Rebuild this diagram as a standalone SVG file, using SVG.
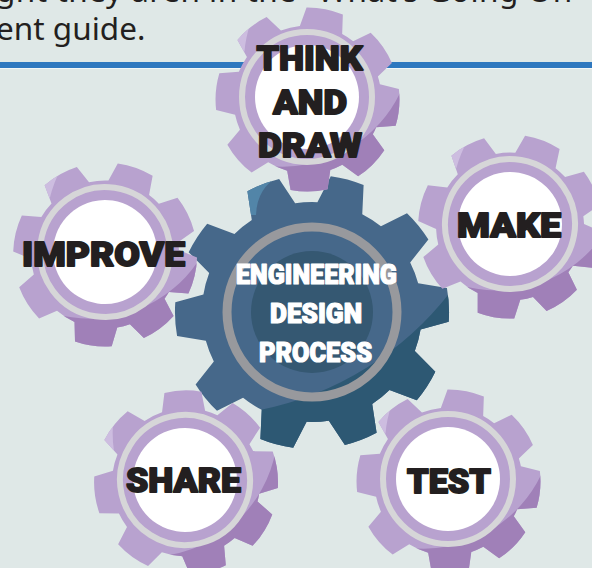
<svg xmlns="http://www.w3.org/2000/svg" xmlns:xlink="http://www.w3.org/1999/xlink" width="592" height="568" viewBox="0 0 592 568">
<style>
.body{font-family:"Noto Sans","Liberation Sans",sans-serif;font-size:31.5px;fill:#231f20}
.lab{font-family:Roboto,"Liberation Sans",sans-serif;font-weight:900;font-size:34px;fill:#231f20;stroke:#231f20;stroke-width:1.800;stroke-linejoin:round;text-anchor:middle}
.mid{font-family:Roboto,"Liberation Sans",sans-serif;font-weight:900;font-size:27px;fill:#fff;stroke:#fff;stroke-width:1.200;stroke-linejoin:round;text-anchor:middle}
</style>
<defs>
<path id="st" d="M-22-68L-18.500-90.100A92 92 0 0 1 18.500-90.100L22-68Z"/>
<path id="bt" d="M-24-104L-17-136A137 137 0 0 1 17-136L24-104Z"/>
<clipPath id="sc">
<circle r="74"/>
<use href="#st" transform="rotate(11)"/><use href="#st" transform="rotate(55)"/><use href="#st" transform="rotate(95)"/><use href="#st" transform="rotate(135)"/><use href="#st" transform="rotate(179)"/><use href="#st" transform="rotate(229)"/><use href="#st" transform="rotate(275)"/><use href="#st" transform="rotate(322)"/>
</clipPath>
<clipPath id="bc">
<circle r="110"/>
<use href="#bt" transform="rotate(15)"/><use href="#bt" transform="rotate(51)"/><use href="#bt" transform="rotate(87)"/><use href="#bt" transform="rotate(123)"/><use href="#bt" transform="rotate(159)"/><use href="#bt" transform="rotate(195)"/><use href="#bt" transform="rotate(231)"/><use href="#bt" transform="rotate(267)"/><use href="#bt" transform="rotate(303)"/><use href="#bt" transform="rotate(339)"/>
</clipPath>
<g id="small-gear">
<g transform="translate(0.500,2.500)">
<g clip-path="url(#sc)">
<rect x="-100" y="-100" width="200" height="200" fill="#b8a2cf"/>
<path d="M95-12A130 130 0 0 1-42 66L-42 110L110 110L110-12Z" fill="#a080b8"/>
<path d="M-56-80Q-62-62-63-48L-95-48L-95-80Z" fill="#cdbde0"/>
</g>
</g>
<circle r="65" fill="none" stroke="#d6d6d8" stroke-width="6"/>
<circle r="52" fill="#fff"/>
</g>
</defs>
<rect width="592" height="568" fill="#dfe8e7"/>
<text class="body" x="-4" y="2" letter-spacing="0.500">ght they aren in the “What’s Going On</text>
<text class="body" x="-4" y="40">ent guide.</text>
<rect x="0" y="62" width="592" height="6" fill="#2e78bf"/>
<rect x="0" y="68" width="592" height="1" fill="#f2f6f6"/>
<g id="node-center" transform="translate(312,312)">
<g clip-path="url(#bc)">
<rect x="-145" y="-145" width="290" height="290" fill="#46688a"/>
<path d="M140-22A320 320 0 0 1-52 98L-52 150L150 150L150-22Z" fill="#2d5873"/>
<path d="M-32-136Q-55-125-56-97L-95-97L-95-136Z" fill="#5285a8"/>
</g>
<circle r="61" fill="#355872"/>
<circle r="85" fill="none" stroke="#98999d" stroke-width="9"/>
<g><text class="mid" x="4.500" y="-28" textLength="161" lengthAdjust="spacingAndGlyphs">ENGINEERING</text>
<text class="mid" x="4" y="11" textLength="92" lengthAdjust="spacingAndGlyphs">DESIGN</text>
<text class="mid" x="3.500" y="50" textLength="113" lengthAdjust="spacingAndGlyphs">PROCESS</text></g>
</g>
<g id="node-think" transform="translate(307,97)">
<use href="#small-gear"/>
<text class="lab" x="2.500" y="-27" textLength="106" lengthAdjust="spacingAndGlyphs">THINK</text>
<text class="lab" x="3" y="17" textLength="74" lengthAdjust="spacingAndGlyphs">AND</text>
<text class="lab" x="3" y="60" textLength="104" lengthAdjust="spacingAndGlyphs">DRAW</text>
</g>
<g id="node-improve" transform="translate(105,252)">
<use href="#small-gear" transform="rotate(8.500)"/>
<text class="lab" x="-1.500" y="14" textLength="163" lengthAdjust="spacingAndGlyphs">IMPROVE</text>
</g>
<g id="node-make" transform="translate(510,224)">
<use href="#small-gear" transform="rotate(10)"/>
<text class="lab" x="-1" y="13" textLength="104" lengthAdjust="spacingAndGlyphs">MAKE</text>
</g>
<g id="node-share" transform="translate(185,480)">
<use href="#small-gear" transform="rotate(-13)"/>
<text class="lab" x="-1.500" y="12" textLength="115" lengthAdjust="spacingAndGlyphs">SHARE</text>
</g>
<g id="node-test" transform="translate(448,479)">
<use href="#small-gear"/>
<text class="lab" x="1" y="14" textLength="84" lengthAdjust="spacingAndGlyphs">TEST</text>
</g>
</svg>
